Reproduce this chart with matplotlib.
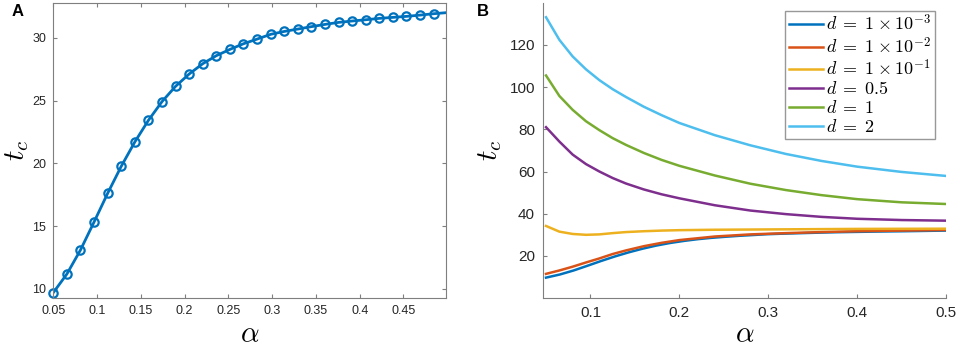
import matplotlib.pyplot as plt
import numpy as np

plt.rcParams['font.family'] = ['Liberation Sans', 'DejaVu Sans']
plt.rcParams['mathtext.fontset'] = 'cm'

# panel A: t_c vs alpha (also the d = 1e-3 curve of panel B)
alpha_a = np.linspace(0.05, 0.5, 30)
tc_a = [9.71, 11.19, 13.10, 15.33, 17.61, 19.76, 21.70, 23.42, 24.91, 26.13,
        27.11, 27.93, 28.57, 29.07, 29.52, 29.89, 30.27, 30.50, 30.69, 30.88,
        31.06, 31.22, 31.33, 31.43, 31.54, 31.62, 31.70, 31.80, 31.91, 32.0]

# panel B
alpha_b = [0.05, 0.065, 0.08, 0.095, 0.11, 0.125, 0.14, 0.16, 0.18, 0.2,
           0.24, 0.28, 0.32, 0.36, 0.4, 0.45, 0.5]
tc_d2 = [133.1, 122.4, 114.5, 108.4, 103.3, 99.0, 95.3, 90.7, 86.7, 83.0,
         77.2, 72.4, 68.3, 65.0, 62.3, 59.8, 57.9]
tc_d1 = [105.5, 95.8, 89.2, 83.8, 79.6, 75.8, 72.6, 68.8, 65.5, 62.7,
         58.1, 54.2, 51.2, 48.8, 46.9, 45.4, 44.6]
tc_d05 = [81.0, 74.2, 68.0, 63.5, 60.0, 56.9, 54.3, 51.5, 49.2, 47.3,
          44.0, 41.5, 39.8, 38.5, 37.6, 37.0, 36.7]
tc_d01 = [34.2, 31.5, 30.4, 30.0, 30.2, 30.8, 31.3, 31.7, 32.0, 32.2,
          32.4, 32.5, 32.6, 32.7, 32.8, 32.85, 32.9]
tc_d001 = [11.5, 13.1, 14.9, 16.9, 18.8, 20.9, 22.6, 24.6, 26.2, 27.5,
           29.2, 30.2, 30.8, 31.3, 31.7, 32.0, 32.3]

labels_b = [r'$d\;=\;1\:\times\:10^{-3}$', r'$d\;=\;1\:\times\:10^{-2}$',
            r'$d\;=\;1\:\times\:10^{-1}$', r'$d\;=\;0.5$', r'$d\;=\;1$', r'$d\;=\;2$']
colors = ['#0072BD', '#D95319', '#EDB120', '#7E2F8E', '#77AC30', '#4DBEEE']

xticks_a = [0.05, 0.1, 0.15, 0.2, 0.25, 0.3, 0.35, 0.4, 0.45]
xticklabels_a = ['0.05', '0.1', '0.15', '0.2', '0.25', '0.3', '0.35', '0.4', '0.45']
yticks_a = [10, 15, 20, 25, 30]
xticks_b = [0.1, 0.2, 0.3, 0.4, 0.5]
yticks_b = [20, 40, 60, 80, 100, 120]

fig = plt.figure(figsize=(9.6, 3.49), dpi=100)
axA = fig.add_axes([0.0555, 0.146, 0.409, 0.846])
axB = fig.add_axes([0.566, 0.147, 0.4194, 0.8435])

gray = '#7f7f7f'
tick_col = '#262626'

# ---- A
xmax_a = 0.4985
axA.plot(alpha_a, tc_a, '-', c=colors[0], lw=2)
vis = [i for i, a in enumerate(alpha_a) if a <= xmax_a]
axA.plot(alpha_a[vis], np.array(tc_a)[vis], 'o', mfc='none', mec=colors[0],
         ms=6, mew=1.6, clip_on=False)
axA.set_xlim(0.05, xmax_a)
axA.set_ylim(9.28, 32.78)
axA.set_xticks(xticks_a)
axA.set_xticklabels(xticklabels_a)
axA.set_yticks(yticks_a)
axA.tick_params(direction='in', length=3, labelsize=9, colors=gray,
                labelcolor=tick_col, top=True, right=True, pad=5)
for s in axA.spines.values():
    s.set_color(gray)
axA.set_xlabel(r'$\alpha$', fontsize=21, labelpad=2)
axA.set_ylabel(r'$t_c$', fontsize=21, labelpad=1)

# ---- B
series = [tc_a, tc_d001, tc_d01, tc_d05, tc_d1, tc_d2]
for k, ys in enumerate(series):
    xs = alpha_a if k == 0 else alpha_b
    axB.plot(xs, ys, '-', c=colors[k], lw=1.8, label=labels_b[k])
axB.set_xlim(0.047, 0.5)
axB.set_ylim(0.2, 139.7)
axB.set_xticks(xticks_b)
axB.set_xticklabels(['0.1', '0.2', '0.3', '0.4', '0.5'])
axB.set_yticks(yticks_b)
axB.spines['top'].set_visible(False)
axB.spines['right'].set_visible(False)
for s in ['left', 'bottom']:
    axB.spines[s].set_color(gray)
axB.tick_params(direction='in', length=3, labelsize=11, colors=gray,
                labelcolor=tick_col, pad=6)
axB.set_xlabel(r'$\alpha$', fontsize=21, labelpad=0)
axB.set_ylabel(r'$t_c$', fontsize=21, labelpad=4)
leg = axB.legend(loc='upper right', bbox_to_anchor=(0.972, 0.975), fontsize=13,
                 frameon=True, fancybox=False, handlelength=1.9, handletextpad=0.15,
                 borderpad=0.2, labelspacing=0.1, borderaxespad=0)
leg.get_frame().set_edgecolor(gray)
leg.get_frame().set_linewidth(1.0)

fig.text(0.012, 0.955, 'A', fontsize=12, fontweight='bold')
fig.text(0.497, 0.955, 'B', fontsize=12, fontweight='bold')

fig.savefig('out.png', dpi=100)
